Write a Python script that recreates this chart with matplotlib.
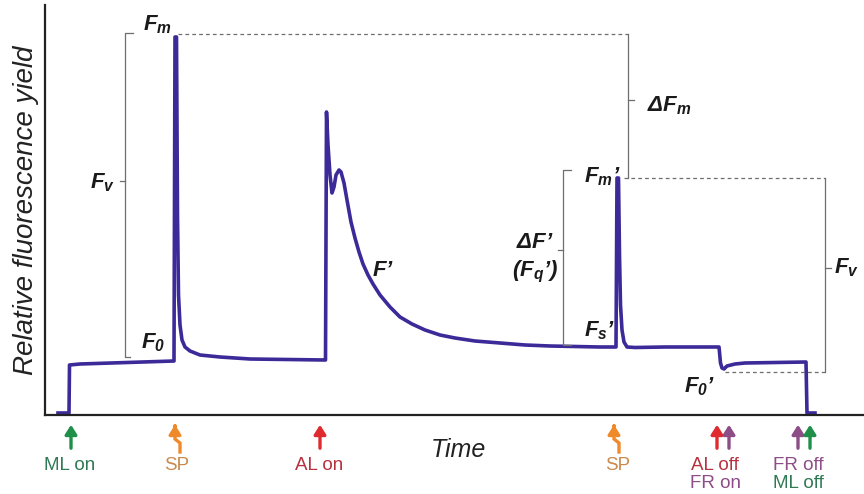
import numpy as np
import matplotlib.pyplot as plt

plt.rcParams['font.family'] = ['Liberation Sans', 'DejaVu Sans']
plt.rcParams['mathtext.fontset'] = 'custom'
plt.rcParams['mathtext.rm'] = 'Liberation Sans:italic:bold'
plt.rcParams['mathtext.it'] = 'Liberation Sans:italic:bold'
plt.rcParams['mathtext.bf'] = 'Liberation Sans:italic:bold'

# chlorophyll fluorescence trace (time, relative yield)
time = [13, 24, 24.5, 35, 129, 130, 131.5, 132.5, 133.5, 135, 137, 140, 145,
        155, 175, 205, 280,
        280.5, 281.5, 283, 285, 287, 289, 291, 294, 296, 299, 302, 306, 310,
        314, 318, 323, 328, 335, 345, 355, 367, 380, 395, 410, 430, 455, 480,
        505, 530, 555, 571,
        572, 573.5, 574.5, 575.5, 577, 579, 582, 590, 620, 674,
        675.5, 677, 679, 682, 690, 700, 761, 762, 770]
fluor = [2, 2, 50, 51, 54, 378, 378, 200, 120, 90, 75, 68, 64,
         60, 58, 56, 55,
         55, 303, 270, 240, 222, 228, 240, 245, 243, 232, 215, 193, 177,
         163, 151, 140, 131, 120, 108, 98, 91, 85, 80, 77, 74, 72, 70,
         69, 68.5, 68, 68,
         237, 237, 160, 110, 85, 73, 68, 67.5, 68, 68,
         52, 47, 46, 49, 51, 52, 53, 2, 2]

# light events along the time axis
events = ['ML on', 'SP', 'AL on', 'SP', 'AL off', 'FR on', 'FR off', 'ML off']
event_time = [26, 130, 275, 569, 672, 684, 753, 765]
event_color = ['#1f8f4a', '#ef8a2a', '#df2a2e', '#ef8a2a',
               '#df2a2e', '#8d4d86', '#8d4d86', '#1f8f4a']

trace_color = '#3b2a98'
gray = '#6e6e6e'

fig = plt.figure(figsize=(8.64, 4.94), dpi=100)
ax = fig.add_axes([45 / 864, 79 / 494, 819 / 864, 410 / 494])
ax.set_xlim(0, 819)
ax.set_ylim(0, 410)
ax.plot(time, fluor, color=trace_color, lw=2.6, solid_joinstyle='round')

for s in ['top', 'right']:
    ax.spines[s].set_visible(False)
for s in ['left', 'bottom']:
    ax.spines[s].set_linewidth(1.6)
    ax.spines[s].set_color('#222222')
ax.set_xticks([])
ax.set_yticks([])

ax.set_ylabel('Relative fluorescence yield', fontsize=20, style='italic',
              color='#222222', labelpad=4)
ax.text(413, -35, 'Time', fontsize=18, style='italic', color='#222222',
        ha='center', va='center', clip_on=False)

fm = max(fluor[:10])
fm_p = max(fluor[45:55])
f0 = 58
fs = 70
f0_p = 43

lkw = dict(color=gray, lw=0.9, clip_on=False)
dkw = dict(color=gray, lw=0.9, ls=(0, (3, 2.5)), clip_on=False)

# Fv bracket (dark-adapted)
ax.plot([88, 80, 80, 85], [fm + 4, fm + 4, f0, f0], **lkw)
ax.plot([75, 80], [234, 234], **lkw)
ax.plot([133, 583], [fm + 3, fm + 3], **dkw)

# delta Fm bracket
ax.plot([583, 583], [fm + 3, fm_p], **lkw)
ax.plot([583, 589], [315, 315], **lkw)

# Fm' / F0' bracket on the right
ax.plot([579, 780], [fm_p, fm_p], **dkw)
ax.plot([680, 780], [f0_p, f0_p], **dkw)
ax.plot([780, 780], [fm_p, f0_p], **lkw)
ax.plot([780, 786], [147, 147], **lkw)

# delta F' bracket
ax.plot([526, 518, 518, 526], [245, 245, fs, fs], **lkw)
ax.plot([513, 518], [165, 165], **lkw)

tkw = dict(fontsize=16, fontweight='bold', style='italic', color='#1a1a1a',
           ha='center', va='center', clip_on=False)
ax.text(112, 390, '$F_m$', **tkw)
ax.text(57, 232, '$F_v$', **tkw)
ax.text(108, 72, '$F_0$', **tkw)
ax.text(338, 145, '$F$’', **tkw)
ax.text(624, 309, 'Δ$F_m$', **tkw)
ax.text(490, 172, 'Δ$F$’', **tkw)
ax.text(490, 143, '($F_q$’)', **tkw)
ax.text(557, 238, '$F_m$’', **tkw)
ax.text(555, 84, '$F_s$’', **tkw)
ax.text(655, 28, '$F_0$’', **tkw)
ax.text(801, 147, '$F_v$', **tkw)

# event arrows below the axis
akw = dict(arrowstyle='-|>,head_width=0.35,head_length=0.55', lw=2.4)
for t, c, name in zip(event_time, event_color, events):
    if name == 'SP':
        ax.annotate('', xy=(t, -7), xytext=(t, -14),
                    arrowprops=dict(color=c, **akw), annotation_clip=False)
        ax.plot([t, t, t + 5, t + 5], [-13, -24, -28, -37], color=c, lw=2.4,
                solid_joinstyle='miter', clip_on=False)
    else:
        ax.annotate('', xy=(t, -7), xytext=(t, -36),
                    arrowprops=dict(color=c, **akw), annotation_clip=False)

bkw = dict(fontsize=13.5, ha='center', va='center', clip_on=False)
ax.text(25, -50, 'ML on', color='#2f7a55', **bkw)
ax.text(132, -50, 'SP', color='#c98a4e', **bkw)
ax.text(274, -50, 'AL on', color='#b5323f', **bkw)
ax.text(573, -50, 'SP', color='#c98a4e', **bkw)
ax.text(670, -50, 'AL off', color='#b5323f', **bkw)
ax.text(670, -68, 'FR on', color='#8d4d86', **bkw)
ax.text(753, -50, 'FR off', color='#8d4d86', **bkw)
ax.text(753, -68, 'ML off', color='#2f7a55', **bkw)

fig.savefig('out.png', dpi=100)
